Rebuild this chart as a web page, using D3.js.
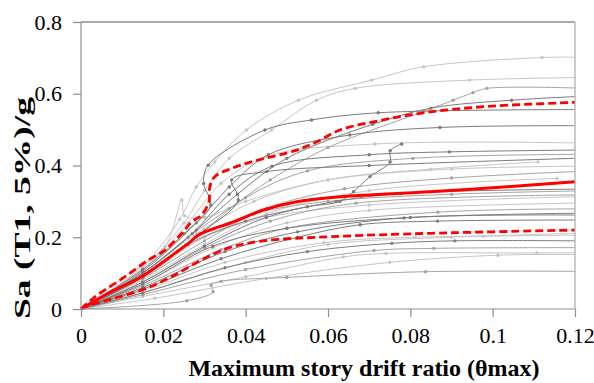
<!DOCTYPE html>
<html>
<head>
<meta charset="utf-8">
<script src="https://cdn.jsdelivr.net/npm/d3@7"></script>
<style>
  html, body { margin: 0; padding: 0; background: #fff; }
  svg { display: block; }
</style>
</head>
<body>
<svg id="chart" width="594" height="383"></svg>
<script>
// ---- Data (drift ratio, Sa/g) ----
const xTicks = [0, 0.02, 0.04, 0.06, 0.08, 0.1, 0.12];
const xTickLabels = ["0", "0.02", "0.04", "0.06", "0.08", "0.1", "0.12"];
const yTicks = [0, 0.2, 0.4, 0.6, 0.8];
const yTickLabels = ["0", "0.2", "0.4", "0.6", "0.8"];

const c01 = [[0,0],[0.015,0.12],[0.024,0.25],[0.028,0.34],[0.0325,0.41],[0.0402,0.499],[0.0528,0.582],[0.0706,0.638],[0.0832,0.675],[0.112,0.701],[0.12,0.702]];
const c02 = [[0,0],[0.015,0.115],[0.025,0.24],[0.03,0.33],[0.036,0.42],[0.0463,0.499],[0.0572,0.582],[0.0666,0.615],[0.0944,0.638],[0.12,0.645]];
const c03 = [[0,0],[0.015,0.1],[0.026,0.2],[0.036,0.28],[0.046,0.36],[0.06,0.45],[0.0831,0.55],[0.0904,0.582],[0.0952,0.603],[0.0986,0.615],[0.12,0.616]];
const c04 = [[0,0],[0.015,0.11],[0.025,0.21],[0.0315,0.29],[0.0298,0.35],[0.0309,0.401],[0.0447,0.499],[0.056,0.527],[0.0722,0.547],[0.12,0.556]];
const c05 = [[0,0],[0.015,0.1],[0.028,0.22],[0.038,0.32],[0.05,0.42],[0.0709,0.515],[0.085,0.56],[0.1046,0.582],[0.12,0.592]];
const c06 = [[0,0],[0.015,0.105],[0.028,0.24],[0.036,0.34],[0.0455,0.43],[0.0653,0.485],[0.0872,0.506],[0.12,0.511]];
const c07 = [[0,0],[0.015,0.11],[0.026,0.24],[0.034,0.35],[0.045,0.425],[0.0714,0.46],[0.12,0.463]];
const c08 = [[0,0],[0.015,0.09],[0.026,0.18],[0.04,0.245],[0.055,0.285],[0.0629,0.30],[0.0662,0.327],[0.0702,0.369],[0.0751,0.41],[0.0751,0.441],[0.0779,0.46]];
const c09 = [[0,0],[0.015,0.1],[0.027,0.21],[0.036,0.32],[0.0464,0.398],[0.07,0.43],[0.0895,0.438],[0.12,0.443]];
const c10 = [[0,0],[0.015,0.095],[0.03,0.22],[0.04,0.31],[0.055,0.385],[0.0806,0.42],[0.12,0.431]];
const c11 = [[0,0],[0.015,0.09],[0.029,0.21],[0.0382,0.304],[0.0366,0.36],[0.0451,0.383],[0.07,0.40],[0.12,0.42]];
const c12 = [[0,0],[0.015,0.1],[0.028,0.21],[0.042,0.30],[0.06,0.36],[0.085,0.39],[0.111,0.41]];
const c13 = [[0,0],[0.015,0.085],[0.03,0.19],[0.045,0.28],[0.064,0.335],[0.09,0.365],[0.12,0.383]];
const c14 = [[0,0],[0.015,0.08],[0.03,0.18],[0.045,0.265],[0.07,0.33],[0.1156,0.364]];
const c15 = [[0,0],[0.015,0.075],[0.03,0.175],[0.045,0.255],[0.062,0.30],[0.0778,0.322],[0.12,0.334]];
const c16 = [[0,0],[0.015,0.075],[0.03,0.17],[0.046,0.245],[0.0668,0.295],[0.12,0.318]];
const c17 = [[0,0],[0.015,0.07],[0.032,0.17],[0.05,0.24],[0.07,0.275],[0.12,0.295]];
const c18 = [[0,0],[0.015,0.065],[0.034,0.165],[0.05,0.225],[0.0867,0.27],[0.12,0.279]];
const c19 = [[0,0],[0.015,0.06],[0.035,0.16],[0.0526,0.215],[0.0785,0.254],[0.12,0.262]];
const c20 = [[0,0],[0.015,0.055],[0.034,0.14],[0.0526,0.2],[0.0678,0.235],[0.0866,0.245],[0.12,0.248]];
const c21 = [[0,0],[0.015,0.05],[0.035,0.13],[0.059,0.185],[0.0811,0.2],[0.0977,0.203],[0.12,0.206]];
const c22 = [[0,0],[0.015,0.045],[0.035,0.115],[0.055,0.16],[0.0755,0.183],[0.0908,0.19],[0.12,0.19]];
const c23 = [[0,0],[0.015,0.04],[0.04,0.11],[0.0712,0.163],[0.0857,0.169],[0.12,0.171]];
const c24 = [[0,0],[0.015,0.035],[0.04,0.09],[0.0637,0.145],[0.0741,0.155],[0.1107,0.156],[0.12,0.157]];
const c25 = [[0,0],[0.018,0.03],[0.045,0.085],[0.075,0.13],[0.1013,0.15],[0.12,0.152]];
const c26 = [[0,0],[0.0257,0.023],[0.0321,0.048],[0.0316,0.066],[0.034,0.077],[0.05,0.088],[0.0837,0.104],[0.12,0.105]];
const c27 = [[0,0],[0.015,0.09],[0.028,0.2],[0.042,0.265],[0.06,0.30],[0.09,0.32],[0.12,0.329]];
const c28 = [[0,0],[0.015,0.085],[0.03,0.2],[0.045,0.255],[0.07,0.29],[0.12,0.313]];
const c29 = [[0,0],[0.015,0.07],[0.032,0.175],[0.05,0.225],[0.08,0.255],[0.12,0.267]];
const c30 = [[0,0],[0.015,0.045],[0.04,0.13],[0.06,0.18],[0.09,0.2],[0.12,0.211]];
const c31 = [[0,0],[0.01,0.085],[0.0204,0.174],[0.0245,0.304],[0.0252,0.26],[0.03,0.255],[0.04,0.3],[0.06,0.36],[0.09,0.39],[0.12,0.398]];

const lightCurves = [c01, c02, c07, c12, c14, c17, c21, c24, c25, c28, c30, c31];
const midCurves   = [c03, c10, c13, c16, c18, c23, c26, c27];
const darkCurves  = [c04, c05, c06, c08, c09, c11, c15, c19, c20, c22, c29];

const median = [[0,0],[0.0066,0.044],[0.0147,0.09],[0.0228,0.155],[0.0261,0.183],[0.0285,0.206],[0.0325,0.225],[0.0362,0.239],[0.0443,0.276],[0.0524,0.299],[0.0629,0.313],[0.0848,0.327],[0.1,0.338],[0.12,0.355]];
const p84 = [[0,0],[0.0034,0.034],[0.0107,0.09],[0.0164,0.137],[0.0204,0.164],[0.0245,0.211],[0.0269,0.243],[0.0293,0.262],[0.0311,0.30],[0.0313,0.341],[0.0325,0.369],[0.0366,0.392],[0.0423,0.413],[0.0524,0.443],[0.0573,0.466],[0.0629,0.499],[0.0734,0.527],[0.0832,0.547],[0.0978,0.564],[0.12,0.576]];
const p16 = [[0,0],[0.001,0.0065],[0.0066,0.025],[0.0147,0.053],[0.0188,0.072],[0.0228,0.095],[0.0277,0.127],[0.0325,0.155],[0.0362,0.172],[0.0443,0.19],[0.0605,0.2015],[0.0848,0.211],[0.12,0.220]];

// ---- Layout ----
const svg = d3.select("#chart");
const mL = 81, mR = 575, mT = 22, mB = 309;
const x = d3.scaleLinear().domain([0, 0.12]).range([mL, mR]);
const y = d3.scaleLinear().domain([0, 0.8]).range([mB, mT]);
const FONT = '"Liberation Serif", "Times New Roman", Times, serif';

const line = d3.line()
  .x(d => x(d[0])).y(d => y(d[1]))
  .curve(d3.curveCatmullRom.alpha(0.5));

const plot = svg.append("g");

function drawGroup(curves, color) {
  curves.forEach(c => {
    plot.append("path").attr("d", line(c))
      .attr("fill", "none").attr("stroke", color).attr("stroke-width", 1);
    const pts = c.slice(1, c[c.length - 1][0] >= 0.12 ? c.length - 1 : c.length);
    plot.selectAll(null).data(pts).enter().append("circle")
      .attr("cx", d => x(d[0])).attr("cy", d => y(d[1]))
      .attr("r", 1.7).attr("fill", color);
  });
}
drawGroup(lightCurves, "#c6c6c6");
drawGroup(midCurves, "#a4a4a4");
drawGroup(darkCurves, "#7c7c7c");

plot.append("path").attr("d", line(p16)).attr("fill", "none")
  .attr("stroke", "#ff0000").attr("stroke-width", 2.8).attr("stroke-dasharray", "8,4");
plot.append("path").attr("d", line(p84)).attr("fill", "none")
  .attr("stroke", "#ff0000").attr("stroke-width", 2.8).attr("stroke-dasharray", "8,4");
plot.append("path").attr("d", line(median)).attr("fill", "none")
  .attr("stroke", "#ff0000").attr("stroke-width", 3);

// ---- Frame & axes ----
svg.append("line").attr("x1", mL).attr("x2", mR).attr("y1", mT).attr("y2", mT)
  .attr("stroke", "#555").attr("stroke-width", 1.2);
svg.append("line").attr("x1", mR).attr("x2", mR).attr("y1", mT).attr("y2", mB)
  .attr("stroke", "#aaa").attr("stroke-width", 1.2);

const yAxis = svg.append("g").attr("transform", `translate(${mL},0)`)
  .call(d3.axisLeft(y).tickValues(yTicks).tickSize(8).tickPadding(11)
    .tickFormat((d, i) => yTickLabels[i]));
const xAxis = svg.append("g").attr("transform", `translate(0,${mB})`)
  .call(d3.axisBottom(x).tickValues(xTicks).tickSize(8).tickPadding(10)
    .tickFormat((d, i) => xTickLabels[i]));

[yAxis, xAxis].forEach(a => {
  a.attr("font-family", null).attr("font-size", null);
  a.select(".domain").attr("stroke", "#8f8f8f").attr("stroke-width", 1.2);
  a.selectAll(".tick line").attr("stroke", "#8f8f8f").attr("stroke-width", 1.2);
  a.selectAll("text").style("font-family", FONT)
    .style("font-size", "22px").attr("fill", "#000");
});
yAxis.select(".domain").attr("d", `M0,${mB}V${mT}`);
xAxis.select(".domain").attr("d", `M${mL},0H${mR}`);

// ---- Titles ----
svg.append("text").attr("x", 364).attr("y", 376).attr("text-anchor", "middle")
  .style("font-family", FONT)
  .style("font-weight", "bold").style("font-size", "24px")
  .text("Maximum story drift ratio (θmax)");

svg.append("text").attr("transform", "translate(30,208) rotate(-90)")
  .attr("text-anchor", "middle")
  .style("font-family", FONT)
  .style("font-weight", "bold").style("font-size", "24px")
  .attr("textLength", 222).attr("lengthAdjust", "spacingAndGlyphs")
  .text("Sa (T1, 5%)/g");
</script>
</body>
</html>
